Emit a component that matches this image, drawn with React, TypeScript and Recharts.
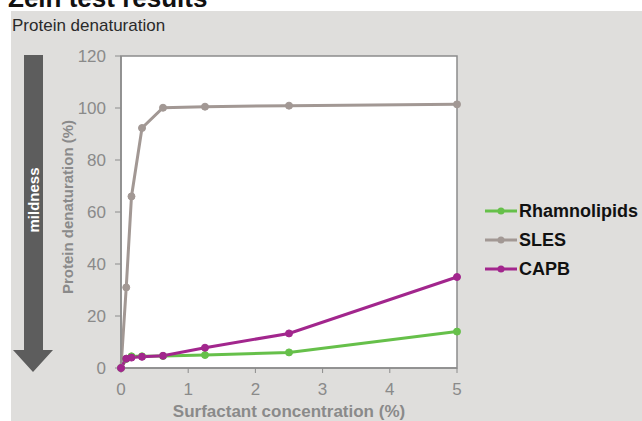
import React from "react";
import {
  LineChart,
  Line,
  XAxis,
  YAxis,
  ReferenceArea,
  Legend,
  Label,
} from "recharts";

const concentrations = [0, 0.078, 0.156, 0.3125, 0.625, 1.25, 2.5, 5];
const rhamnolipids = [0, 3.5, 4.5, 4.5, 4.6, 5, 6, 14];
const sles = [0, 31, 66, 92.3, 100.1, 100.5, 100.9, 101.4];
const capb = [0, 3.6, 4, 4.3, 4.7, 7.8, 13.3, 35];
const xTicks = [0, 1, 2, 3, 4, 5];
const yTicks = [0, 20, 40, 60, 80, 100, 120];

const seriesNames = ["Rhamnolipids", "SLES", "CAPB"];
const seriesColors = ["#66c04a", "#a29894", "#a2268d"];

const data = concentrations.map((c, i) => ({
  conc: c,
  Rhamnolipids: rhamnolipids[i],
  SLES: sles[i],
  CAPB: capb[i],
}));

const FONT = '"Liberation Sans", Arial, sans-serif';
const AXIS_GRAY = "#8a8a8a";

const LegendContent = (props: any) => {
  const payload = [...(props.payload || [])].sort(
    (a: any, b: any) => seriesNames.indexOf(a.value) - seriesNames.indexOf(b.value)
  );
  return (
    <div style={{ fontFamily: FONT }}>
      {payload.map((p: any) => (
        <div
          key={p.value}
          style={{ display: "flex", alignItems: "center", height: 29 }}
        >
          <svg width={32} height={10} style={{ marginRight: 2 }}>
            <line x1={0} y1={5} x2={32} y2={5} stroke={p.color} strokeWidth={3} />
            <circle cx={16} cy={5} r={3.5} fill={p.color} />
          </svg>
          <span
            style={{
              fontSize: 18,
              fontWeight: "bold",
              color: "#111",
              lineHeight: "20px",
            }}
          >
            {p.value}
          </span>
        </div>
      ))}
    </div>
  );
};

const YLabel = (props: any) => {
  const vb = props.viewBox || {};
  const x = 67;
  const y = vb.y + vb.height / 2 - 5;
  return (
    <text
      x={x}
      y={y}
      transform={`rotate(-90, ${x}, ${y})`}
      textAnchor="middle"
      dominantBaseline="central"
      fill={AXIS_GRAY}
      fontSize={15}
      fontWeight="bold"
      fontFamily={FONT}
    >
      Protein denaturation (%)
    </text>
  );
};

export default function App() {
  return (
    <div
      style={{
        position: "absolute",
        left: 0,
        top: 0,
        width: 642,
        height: 421,
        background: "#ffffff",
        overflow: "hidden",
      }}
    >
      <svg
        width={642}
        height={421}
        style={{ position: "absolute", left: 0, top: 0 }}
      >
        <rect x={11} y={11} width={631} height={410} fill="#dfdedc" />
        <text
          x={8}
          y={7}
          fontSize={26}
          fontWeight="bold"
          fill="#111"
          fontFamily={FONT}
        >
          Zein test results
        </text>
        <text x={12} y={31} fontSize={17} fill="#2a2a2a" fontFamily={FONT}>
          Protein denaturation
        </text>
        <polygon
          points="24,55 43,55 43,350 53,350 33,372 13,350 24,350"
          fill="#5d5d5d"
        />
        <text
          x={33}
          y={200}
          transform="rotate(-90, 33, 200)"
          textAnchor="middle"
          dominantBaseline="central"
          fill="#ffffff"
          fontSize={15}
          fontWeight="bold"
          fontFamily={FONT}
        >
          mildness
        </text>
      </svg>
      <div style={{ position: "absolute", left: 0, top: 0 }}>
        <LineChart
          width={642}
          height={421}
          data={data}
          margin={{ top: 56, right: 185, bottom: 0, left: 0 }}
        >
          <ReferenceArea
            x1={0}
            x2={5}
            y1={0}
            y2={120}
            fill="#ffffff"
            fillOpacity={1}
            stroke="#8c8c8c"
            strokeWidth={1.5}
          />
          <XAxis
            dataKey="conc"
            type="number"
            domain={[0, 5]}
            ticks={xTicks}
            height={53}
            tickSize={5}
            tickMargin={10}
            stroke="#8c8c8c"
            tick={{ fill: AXIS_GRAY, fontSize: 17, fontFamily: FONT }}
            axisLine={{ stroke: "#8c8c8c", strokeWidth: 1.5 }}
          >
            <Label
              value="Surfactant concentration (%)"
              position="insideBottom"
              offset={4}
              fill={AXIS_GRAY}
              fontSize={17}
              fontWeight="bold"
              fontFamily={FONT}
            />
          </XAxis>
          <YAxis
            type="number"
            domain={[0, 120]}
            ticks={yTicks}
            width={121}
            tickSize={6}
            tickMargin={9}
            stroke="#8c8c8c"
            tick={{ fill: AXIS_GRAY, fontSize: 17, fontFamily: FONT }}
            axisLine={{ stroke: "#8c8c8c", strokeWidth: 1.5 }}
          >
            <Label content={<YLabel />} />
          </YAxis>
          {seriesNames.map((name, i) => (
            <Line
              key={name}
              type="linear"
              dataKey={name}
              name={name}
              stroke={seriesColors[i]}
              strokeWidth={3}
              dot={{ r: 3.5, fill: seriesColors[i], stroke: seriesColors[i], strokeWidth: 1 }}
              activeDot={false}
              isAnimationActive={false}
            />
          ))}
          <Legend
            layout="vertical"
            align="center"
            verticalAlign="middle"
            content={<LegendContent />}
            wrapperStyle={{ left: 485, top: 196, width: 157 }}
          />
        </LineChart>
      </div>
    </div>
  );
}
